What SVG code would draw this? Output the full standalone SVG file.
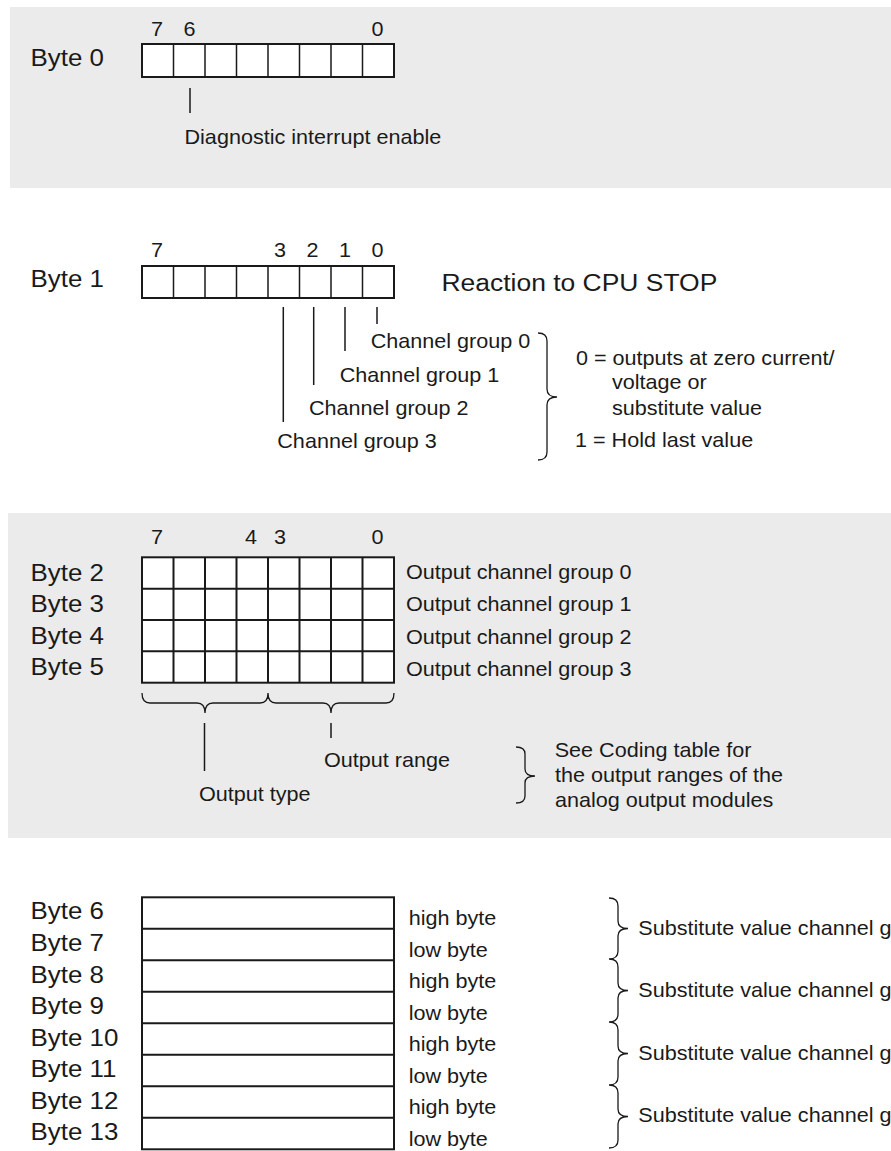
<svg xmlns="http://www.w3.org/2000/svg" width="891" height="1151" viewBox="0 0 891 1151">
<style>
text{font-family:"Liberation Sans",Arial,sans-serif;fill:#1a1a1a;transform-box:fill-box;transform-origin:left center;transform:scaleX(1.08)}
.b{font-size:24px}
.t{font-size:20px}
.r{font-size:24.5px}
.d{font-size:20px;text-anchor:middle;transform-origin:center center}
.panel{fill:#ebebeb}
.cell{fill:#fff;stroke:#1a1a1a;stroke-width:2}
.tick{stroke:#1a1a1a;stroke-width:1.5;fill:none}
.brace{stroke:#1a1a1a;stroke-width:1.3;fill:none}
</style>
<rect class="panel" x="10" y="7" width="881" height="181"/>
<rect class="panel" x="8" y="513" width="883" height="325"/>

<g id="byte0">
<text class="b" x="30.5" y="66">Byte 0</text>
<text class="d" x="157" y="36">7</text>
<text class="d" x="189.5" y="36">6</text>
<text class="d" x="377.5" y="36">0</text>
<rect class="cell" x="142" y="44" width="252" height="33"/>
<path class="tick" d="M173.5 44V77M205 44V77M236.5 44V77M268 44V77M299.5 44V77M331 44V77M362.5 44V77"/>
<text class="t" x="184.5" y="144">Diagnostic interrupt enable</text>
</g>

<g id="byte1">
<text class="b" x="30.5" y="287">Byte 1</text>
<text class="d" x="157" y="257">7</text>
<text class="d" x="280" y="257">3</text>
<text class="d" x="312.5" y="257">2</text>
<text class="d" x="345" y="257">1</text>
<text class="d" x="377.5" y="257">0</text>
<rect class="cell" x="142" y="266" width="252" height="32"/>
<path class="tick" d="M173.5 266V298M205 266V298M236.5 266V298M268 266V298M299.5 266V298M331 266V298M362.5 266V298"/>
<text class="r" x="441.5" y="291">Reaction to CPU STOP</text>
<text class="t" x="370.7" y="348">Channel group 0</text>
<text class="t" x="339.7" y="382">Channel group 1</text>
<text class="t" x="309" y="415">Channel group 2</text>
<text class="t" x="277.3" y="448">Channel group 3</text>
<text class="t" x="576" y="365">0 = outputs at zero current/</text>
<text class="t" x="612" y="389">voltage or</text>
<text class="t" x="612" y="415">substitute value</text>
<text class="t" x="575" y="447">1 = Hold last value</text>
</g>

<g id="byte2-5">
<text class="d" x="157" y="544">7</text>
<text class="d" x="251" y="544">4</text>
<text class="d" x="280" y="544">3</text>
<text class="d" x="377.5" y="544">0</text>
<text class="b" x="30.5" y="581">Byte 2</text>
<text class="b" x="30.5" y="612.5">Byte 3</text>
<text class="b" x="30.5" y="644">Byte 4</text>
<text class="b" x="30.5" y="675.5">Byte 5</text>
<rect class="cell" x="142" y="557.3" width="252" height="125.4"/>
<path class="tick" style="stroke-width:2" d="M173.5 557.3V682.7M205 557.3V682.7M236.5 557.3V682.7M268 557.3V682.7M299.5 557.3V682.7M331 557.3V682.7M362.5 557.3V682.7M142 588.7H394M142 620H394M142 651.3H394"/>
<text class="t" x="406" y="579">Output channel group 0</text>
<text class="t" x="406" y="611.5">Output channel group 1</text>
<text class="t" x="406" y="644">Output channel group 2</text>
<text class="t" x="406" y="676.5">Output channel group 3</text>
<text class="t" x="199" y="801">Output type</text>
<text class="t" x="324" y="767">Output range</text>
<text class="t" x="554.7" y="757">See Coding table for</text>
<text class="t" x="555" y="782">the output ranges of the</text>
<text class="t" x="555" y="807">analog output modules</text>
</g>

<g id="byte6-13">
<text class="b" x="30.5" y="919.3">Byte 6</text>
<text class="b" x="30.5" y="951">Byte 7</text>
<text class="b" x="30.5" y="982.7">Byte 8</text>
<text class="b" x="30.5" y="1014.3">Byte 9</text>
<text class="b" x="30.5" y="1046">Byte 10</text>
<text class="b" x="30.5" y="1077.5">Byte 11</text>
<text class="b" x="30.5" y="1109.2">Byte 12</text>
<text class="b" x="30.5" y="1140.5">Byte 13</text>
<rect class="cell" x="142" y="897.3" width="252" height="252"/>
<path class="tick" style="stroke-width:2" d="M142 928.8H394M142 960.3H394M142 991.8H394M142 1023.3H394M142 1054.8H394M142 1086.3H394M142 1117.8H394"/>
<text class="t" x="408.7" y="925">high byte</text>
<text class="t" x="408.7" y="956.7">low byte</text>
<text class="t" x="408.7" y="988.3">high byte</text>
<text class="t" x="408.7" y="1020">low byte</text>
<text class="t" x="408.7" y="1051.5">high byte</text>
<text class="t" x="408.7" y="1083">low byte</text>
<text class="t" x="408.7" y="1114.5">high byte</text>
<text class="t" x="408.7" y="1146">low byte</text>
<text class="t" x="638.3" y="935">Substitute value channel g</text>
<text class="t" x="638.3" y="997.5">Substitute value channel g</text>
<text class="t" x="638.3" y="1060.5">Substitute value channel g</text>
<text class="t" x="638.3" y="1122.5">Substitute value channel g</text>
</g>

<g id="connectors">
<path class="tick" d="M190 88V113"/>
<path class="tick" d="M377 307V324M345 307V351M313.7 307V385M283.3 307V422"/>
<path class="brace" d="M538 333Q547 333 547 341L547 389Q547 397 557 397Q547 397 547 405L547 452Q547 460 538 460"/>
<path class="brace" d="M142 693Q142 703 150 703L197 703Q205 703 205 713Q205 703 213 703L260 703Q268 703 268 693Q268 703 276 703L323 703Q331 703 331 713Q331 703 339 703L386 703Q394 703 394 693"/>
<path class="tick" d="M204.5 723V771M331 723V738"/>
<path class="brace" d="M516 747Q525 747 525 754L525 769Q525 776 535 776Q525 776 525 783L525 796Q525 803 516 803"/>
<path class="brace" d="M609 898Q618 898 618 906L618 921Q618 928.5 628 928.5Q618 928.5 618 936L618 951Q618 959 609 959Q618 959 618 967L618 983Q618 990.5 628 990.5Q618 990.5 618 998L618 1014Q618 1022 609 1022Q618 1022 618 1030L618 1046Q618 1053.5 628 1053.5Q618 1053.5 618 1061L618 1077Q618 1085 609 1085Q618 1085 618 1093L618 1109Q618 1116.5 628 1116.5Q618 1116.5 618 1124L618 1140Q618 1148 609 1148"/>
</g>
</svg>
